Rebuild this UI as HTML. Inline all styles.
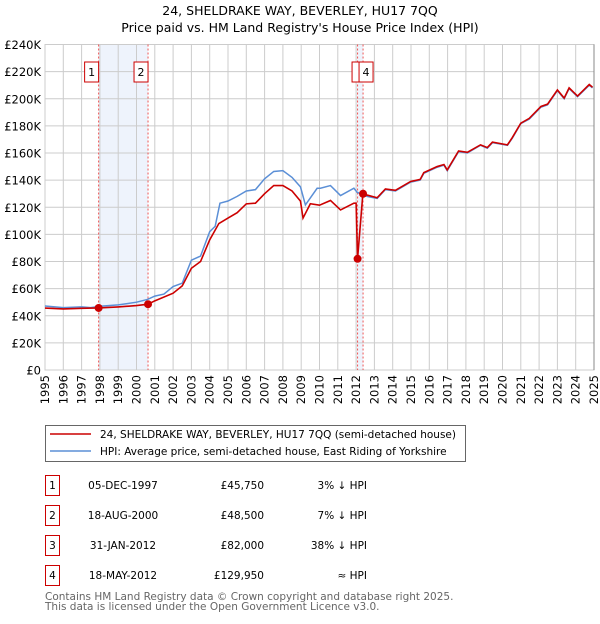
<!DOCTYPE html>
<html><head><meta charset="utf-8"><style>
body{margin:0;background:#fff;font-family:"DejaVu Sans","Liberation Sans",sans-serif;}
svg text{font-family:"DejaVu Sans","Liberation Sans",sans-serif;}
</style></head><body>
<svg id="c" width="600" height="620" viewBox="0 0 600 620" xmlns="http://www.w3.org/2000/svg">
<text x="300" y="15" text-anchor="middle" font-size="12.5">24, SHELDRAKE WAY, BEVERLEY, HU17 7QQ</text>
<text x="300" y="32" text-anchor="middle" font-size="12.5">Price paid vs. HM Land Registry's House Price Index (HPI)</text>
<g id="plot"></g>
<g>
<rect x="45.5" y="425.5" width="420" height="36" fill="#fff" stroke="#666"/>
<line x1="50" y1="434" x2="91" y2="434" stroke="#cc0000" stroke-width="1.6"/>
<text x="100" y="438" font-size="10.5">24, SHELDRAKE WAY, BEVERLEY, HU17 7QQ (semi-detached house)</text>
<line x1="50" y1="451" x2="91" y2="451" stroke="#5b8fd6" stroke-width="1.6"/>
<text x="100" y="455" font-size="10.5">HPI: Average price, semi-detached house, East Riding of Yorkshire</text>
</g>
<g id="table" font-size="10.5"></g>
<text x="45" y="600" font-size="10.5" fill="#666">Contains HM Land Registry data © Crown copyright and database right 2025.</text>
<text x="45" y="610" font-size="10.5" fill="#666">This data is licensed under the Open Government Licence v3.0.</text>
</svg>
<script>
const yTicks=[0,20,40,60,80,100,120,140,160,180,200,220,240];
const yTickLabels=["£0","£20K","£40K","£60K","£80K","£100K","£120K","£140K","£160K","£180K","£200K","£220K","£240K"];
const xYears=[1995,1996,1997,1998,1999,2000,2001,2002,2003,2004,2005,2006,2007,2008,2009,2010,2011,2012,2013,2014,2015,2016,2017,2018,2019,2020,2021,2022,2023,2024,2025];
const hpiDates=[1995,1996,1997,1997.5,1998,1999,2000,2000.6,2001,2001.5,2002,2002.5,2003,2003.5,2004,2004.3,2004.56,2005,2005.5,2006,2006.5,2007,2007.5,2008,2008.5,2008.96,2009.23,2009.87,2010.05,2010.6,2011.15,2011.88,2012.06,2012.6,2013.15,2013.6,2014.15,2014.98,2015.5,2015.7,2016.43,2016.8,2016.98,2017.6,2018.08,2018.8,2019.17,2019.45,2020.27,2020.54,2021,2021.46,2022.1,2022.46,2023,2023.37,2023.64,2024.1,2024.74,2024.92];
const hpiValues=[47.2,46,46.5,46,47,48,50,52,54.5,56,61.5,64,81,84,102,106,123,124.6,128,132,133,141,146.4,147,142,135,121.7,134,134,136,128.6,134,131,128,126.5,133,132,138.5,140,145,149.5,151,147,161,160,165.7,163.5,167.6,165.7,171,181.7,185,193.8,195.5,206,200,207.5,201.5,210,208];
const ppDates=[1995,1996,1997,1997.93,1999,2000,2000.63,2001,2002,2002.5,2003,2003.5,2004,2004.5,2005,2005.5,2006,2006.5,2007,2007.5,2008,2008.5,2008.96,2009.1,2009.5,2010,2010.6,2011.15,2011.88,2012.0,2012.08,2012.37,2012.6,2013.15,2013.6,2014.15,2014.98,2015.5,2015.7,2016.43,2016.8,2016.98,2017.6,2018.08,2018.8,2019.17,2019.45,2020.27,2020.54,2021,2021.46,2022.1,2022.46,2023,2023.37,2023.64,2024.1,2024.74,2024.92];
const ppValues=[45.7,45,45.5,45.75,46.5,47.5,48.5,51,56.6,62,75,80,96,108,112,116,122.5,123,130,136,136,132,124.5,112,122.6,121.5,125,118,123,123,82,129.95,129,127,133.5,132.5,139,140.5,145.5,150,151.5,147.5,161.5,160.5,166,164,168,166,171.5,182,185.5,194.3,196,206.5,200.5,208,202,210.5,208.5];
const sales=[{n:"1",d:1997.93,v:45.75,date:"05-DEC-1997",price:"£45,750",rel:"3% ↓ HPI"},{n:"2",d:2000.63,v:48.5,date:"18-AUG-2000",price:"£48,500",rel:"7% ↓ HPI"},{n:"3",d:2012.08,v:82,date:"31-JAN-2012",price:"£82,000",rel:"38% ↓ HPI"},{n:"4",d:2012.38,v:129.95,date:"18-MAY-2012",price:"£129,950",rel:"≈ HPI"}];

const L=45,R=594,T=44.5,B=370;
const X=d=>L+(d-1995)*(R-L)/30;
const Y=v=>B-v*(B-T)/240;
const NS="http://www.w3.org/2000/svg";
const plot=document.getElementById('plot');
function mk(tag,attrs,parent){const e=document.createElementNS(NS,tag);for(const k in attrs)e.setAttribute(k,attrs[k]);(parent||plot).appendChild(e);return e;}
// shaded span between sale 1 and 2, and 3-4
let s=mk('rect',{x:X(sales[0].d),y:T,width:X(sales[1].d)-X(sales[0].d),height:B-T,fill:'#eef3fc'});


s=mk('rect',{x:X(sales[2].d),y:T,width:X(sales[3].d)-X(sales[2].d),height:B-T,fill:'#eef3fc'});


yTicks.forEach((v,i)=>{
 const g=mk('line',{x1:L,x2:R,y1:Y(v),y2:Y(v),stroke:'#cccccc','stroke-width':1});
 
 
 const t=mk('text',{x:L-4,y:Y(v)+4.5,'text-anchor':'end','font-size':'11.5'});
 t.textContent=yTickLabels[i];
 
 
});
xYears.forEach(y=>{
 const g=mk('line',{x1:X(y),x2:X(y),y1:T,y2:B,stroke:'#cccccc','stroke-width':1});
 
 
 const t=mk('text',{x:0,y:0,'text-anchor':'end','font-size':'11.5',transform:`translate(${X(y)+4},${B+5}) rotate(-90)`});
 t.textContent=y;
 
 
});
const ax=mk('rect',{x:L,y:T,width:R-L,height:B-T,fill:'none',stroke:'#cccccc'});


const rl=mk('line',{x1:R,x2:R,y1:T,y2:B,stroke:'#888'});


sales.forEach(sl=>{
 const l=mk('line',{x1:X(sl.d),x2:X(sl.d),y1:T,y2:B,stroke:'#ee5555','stroke-width':1,'stroke-dasharray':'2,2'});
 
 
});
const hp=mk('polyline',{points:hpiDates.map((d,i)=>X(d)+','+Y(hpiValues[i])).join(' '),fill:'none',stroke:'#5b8fd6','stroke-width':1.5});


const pp=mk('polyline',{points:ppDates.map((d,i)=>X(d)+','+Y(ppValues[i])).join(' '),fill:'none',stroke:'#cc0000','stroke-width':1.6});


sales.forEach((sl,i)=>{
 const c=mk('circle',{cx:X(sl.d),cy:Y(sl.v),r:4,fill:'#cc0000'});
 
 
 if(i==2) return;
 const bx=i==3?X(sl.d)-4:X(sl.d)-14;
 const w=14;
 if(i==3){const b3=mk('rect',{x:bx-7,y:62,width:w,height:20,fill:'#fff',stroke:'#cc0000'});}
 const b=mk('rect',{x:bx,y:62,width:w,height:20,fill:'#fff',stroke:'#cc0000'});
 
 
 const t=mk('text',{x:bx+w/2,y:76,'text-anchor':'middle','font-size':'11'});
 t.textContent=sl.n;
 
 
});
const tb=document.getElementById('table');
sales.forEach((sl,i)=>{
 const y0=475+i*30;
 const r=mk('rect',{x:45.5,y:y0+0.5,width:14,height:20,fill:'#fff',stroke:'#cc0000'},tb);
 
 
 const cols=[[52.5,'middle',sl.n,'table-index'],[123,'middle',sl.date,'table-date'],[264,'end',sl.price,'table-price'],[367,'end',sl.rel,'table-hpi-relation']];
 cols.forEach(c=>{
  const t=mk('text',{x:c[0],y:y0+14,'text-anchor':c[1]},tb);
  t.textContent=c[2];
  
  
 });
});
</script>
</body></html>
